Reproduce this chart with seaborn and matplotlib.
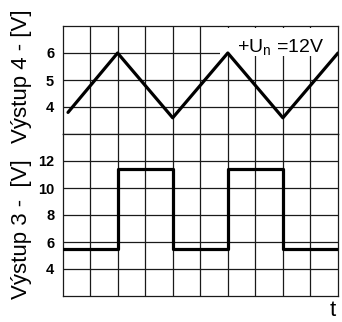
import matplotlib
matplotlib.use("Agg")
import matplotlib.pyplot as plt
import seaborn as sns
import pandas as pd
from matplotlib.patches import Rectangle

# ---- data ----
t_tri = [0.2, 2, 4, 6, 8, 10]
v_out4 = [3.8, 6.0, 3.6, 6.0, 3.6, 6.0]
t_sq = [0, 2, 2, 4, 4, 6, 6, 8, 8, 10]
v_out3 = [5.5, 5.5, 11.4, 11.4, 5.5, 5.5, 11.4, 11.4, 5.5, 5.5]
ticks_top = [4, 5, 6]
ticks_bottom = [4, 6, 8, 10, 12]
label_top = "Výstup 4 - [V]"
label_bottom = "Výstup 3 -  [V]"
note = "+U$_\\mathregular{n}$ =12V"

sns.set_theme(style="white")
plt.rcParams['font.family'] = ['Liberation Sans', 'DejaVu Sans']
plt.rcParams['text.color'] = 'black'
plt.rcParams['ytick.color'] = 'black'

fig = plt.figure(figsize=(3.42, 3.22), dpi=100)
L, R = 62.5 / 342, 338 / 342
def fy(px):
    return 1 - px / 322
ax1 = fig.add_axes([L, fy(134), R - L, fy(26) - fy(134)])
ax2 = fig.add_axes([L, fy(296), R - L, fy(134) - fy(296)])

df1 = pd.DataFrame({"t": t_tri, "v": v_out4})
df2 = pd.DataFrame({"t": t_sq, "v": v_out3})
sns.lineplot(data=df1, x="t", y="v", sort=False, estimator=None, ax=ax1,
             color="black", lw=2.3, zorder=5)
sns.lineplot(data=df2, x="t", y="v", sort=False, estimator=None, ax=ax2,
             color="black", lw=2.3, zorder=5)

gkw = dict(color="#1a1a1a", lw=0.9)
for ax, yl, yt in [(ax1, (3, 7), ticks_top), (ax2, (2, 14), ticks_bottom)]:
    ax.set_xlim(0, 10)
    ax.set_ylim(*yl)
    ax.set_xticks(range(1, 10))
    ax.set_xticklabels([])
    ax.set_yticks(yt)
    ax.set_yticklabels([str(v) for v in yt], fontweight="bold", fontsize=10.5,
                       color="black")
    ax.tick_params(length=0, pad=6)
    ax.grid(True, **gkw)
    ax.set_axisbelow(True)
    ax.set_xlabel("")
    ax.set_ylabel("")
    for s in ax.spines.values():
        s.set_color("#1a1a1a")
        s.set_linewidth(0.9)

ax1.add_patch(Rectangle((0.572, 0.722), 0.424, 0.259, transform=ax1.transAxes,
                        facecolor="white", edgecolor="none", zorder=3))
ax1.text(0.949, 0.755, note, transform=ax1.transAxes, ha="right", va="baseline",
         fontsize=14, zorder=4)

fig.text(22 / 342, fy(76), label_top, rotation=90, ha="center", va="center", fontsize=16)
fig.text(22 / 342, fy(229), label_bottom, rotation=90, ha="center", va="center", fontsize=16)
fig.text(333 / 342, fy(311), "t", ha="center", va="center", fontsize=16)

fig.savefig("out.png", dpi=100)
